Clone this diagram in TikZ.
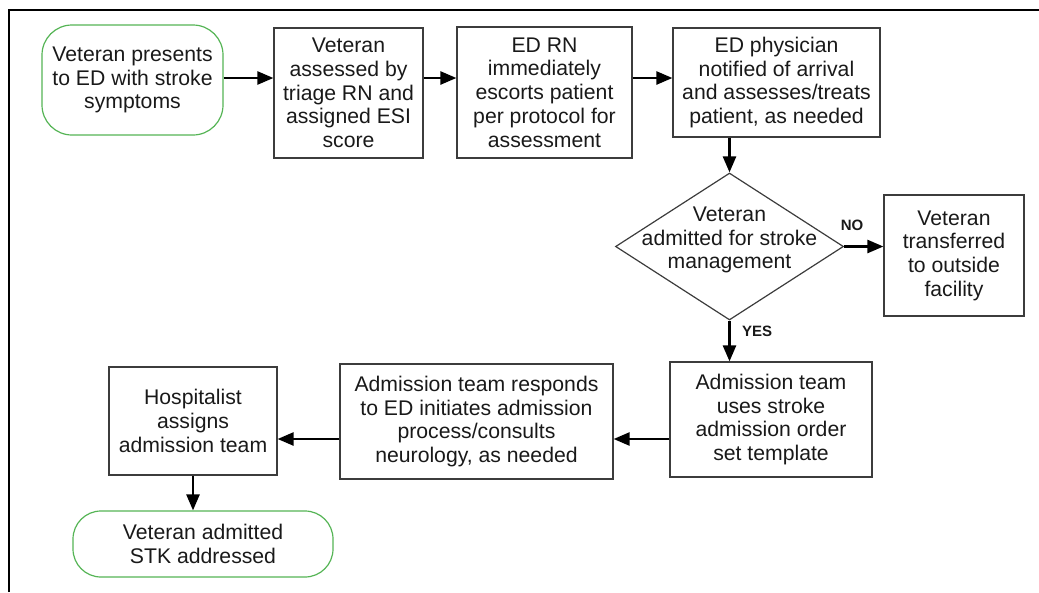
\documentclass[tikz,border=0pt]{standalone}
\usepackage{fontspec}
\setmainfont{Liberation Sans}
\usetikzlibrary{arrows.meta,shapes.geometric,calc}
\definecolor{boxline}{RGB}{60,60,60}
\definecolor{termgreen}{RGB}{85,180,85}
\definecolor{txt}{RGB}{25,25,25}
\tikzset{
  every node/.style={text=txt},
  stepbox/.style={draw=boxline, line width=1.2pt, align=center, inner sep=2pt,
    font=\fontsize{21.2}{23.7}\selectfont},
  termbox/.style={draw=termgreen, line width=1.2pt, align=center, inner sep=2pt,
    font=\fontsize{21.2}{23.7}\selectfont},
  arr/.style={line width=2.5pt, -{Triangle[length=16pt,width=13pt]}},
  yn/.style={font=\fontsize{15}{17}\selectfont\bfseries, inner sep=0pt},
  frameline/.style={line width=1.6pt, black}
}
\begin{document}
\begin{tikzpicture}[x=1pt,y=-1pt]
\useasboundingbox (0,0) rectangle (1039,592);
\draw[frameline] (9,592) -- (9,10) -- (1039,10);

% row 1
\node[termbox, rounded corners=30pt, minimum width=181pt, minimum height=110pt] (start) at (132.5,80)
  {Veteran presents\\to ED with stroke\\symptoms};
\node[stepbox, minimum width=149pt, minimum height=130pt] (triage) at (348.5,93)
  {Veteran\\assessed by\\triage RN and\\assigned ESI\\score};
\node[stepbox, minimum width=175pt, minimum height=131pt] (escort) at (544.5,92.5)
  {ED RN\\immediately\\escorts patient\\per protocol for\\assessment};
\node[stepbox, minimum width=207pt, minimum height=109pt] (phys) at (776.5,82.5)
  {ED physician\\notified of arrival\\and assesses/treats\\patient, as needed};

% decision
\node[diamond, draw=boxline, line width=1.2pt, minimum width=228pt, minimum height=147pt, inner sep=0pt] (dec) at (729.5,246.5) {};
\node[align=center, font=\fontsize{21.2}{23.7}\selectfont] (dectext) at (729.5,240)
  {Veteran\\admitted for stroke\\management};
\node[stepbox, minimum width=140pt, minimum height=121pt] (transfer) at (954,255.5)
  {Veteran\\transferred\\to outside\\facility};

% row 3
\node[stepbox, minimum width=202pt, minimum height=115pt] (orderset) at (771,419.5)
  {Admission team\\uses stroke\\admission order\\set template};
\node[stepbox, minimum width=273pt, minimum height=115pt] (responds) at (476.5,421.5)
  {Admission team responds\\to ED initiates admission\\process/consults\\neurology, as needed};
\node[stepbox, minimum width=168pt, minimum height=108pt] (hosp) at (193,421)
  {Hospitalist\\assigns\\admission team};
\node[termbox, rounded corners=28pt, minimum width=260pt, minimum height=66pt] (done) at (203,544)
  {Veteran admitted\\STK addressed};

% guide coordinates for arrow rows
\coordinate (rowA) at (0,78);
\coordinate (rowC) at (0,439);

% connectors
\draw[arr] (start.east |- rowA) -- (triage.west |- rowA);
\draw[arr] (triage.east |- rowA) -- (escort.west |- rowA);
\draw[arr] (escort.east |- rowA) -- (phys.west |- rowA);
\draw[arr] (dec.north |- phys.south) -- (dec.north);
\draw[arr] (dec.east) -- (transfer.west |- dec.east);
\draw[arr] (dec.south) -- (dec.south |- orderset.north);
\draw[arr] (orderset.west |- rowC) -- (responds.east |- rowC);
\draw[arr] (responds.west |- rowC) -- (hosp.east |- rowC);
\draw[arr] (hosp.south) -- (hosp.south |- done.north);

% labels
\node[yn] (nolab) at (852,225) {NO};
\node[yn] (yeslab) at (757,331) {YES};
\end{tikzpicture}
\end{document}
